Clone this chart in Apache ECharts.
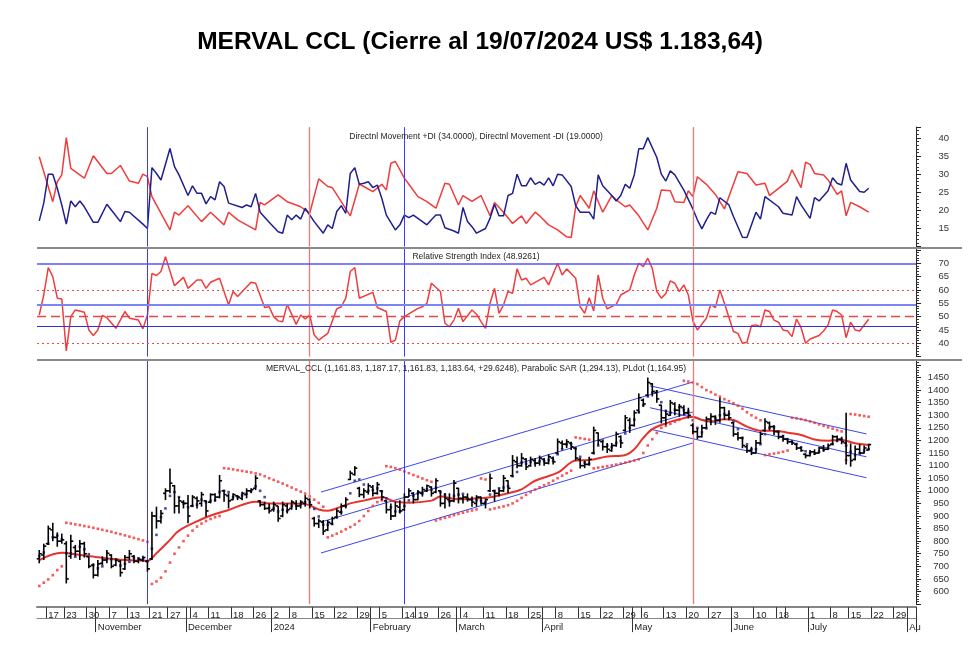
<!DOCTYPE html>
<html><head><meta charset="utf-8">
<script src="https://cdn.jsdelivr.net/npm/echarts/dist/echarts.min.js"></script>
<style>html,body{margin:0;padding:0;background:#fff}#c{width:980px;height:664px}</style>
</head><body><div id="c"></div>
<script>
// ---------- categories (trading days) ----------
const holidays = ['2023-10-13','2023-10-16','2023-11-06','2023-11-20','2023-12-08','2023-12-25','2024-01-01','2024-02-12','2024-02-13','2024-03-28','2024-03-29','2024-04-01','2024-04-02','2024-05-01','2024-06-17','2024-06-20','2024-06-21','2024-07-09'];
const firstDay = '2023-10-11', lastDay = '2024-08-02';
const hiddenDayLabels = ['2024-04-03','2024-06-24'];
const monthNames = ['2024','February','March','April','May','June','July','Au','September','October','November','December'];

// ---------- price bars ----------
const priceOpen = [730,745,790,845,815,800,790,740,775,760, 790,738,705,665,712,725,745,705,720,690, 735,740,720,725,720,730,900,880,990,1000, 1020,940,955,950,940,970,950,960,955,985, 975,1000,980,965,980,970,985,1000,1010,960, 945,930,925,940,900,940,930,950,940,950, 965,890,870,875,845,870,895,915,940,1045, 1065,1010,985,995,1015,990,1000,960,925,900, 935,925,975,990,965,990,1000,1015,995,1000, 950,965,960,1010,970,975,965,950,975,950, 1000,1000,990,1000,1040,1060,1115,1100,1125,1100, 1120,1110,1125,1110,1130,1150,1190,1185,1190,1170, 1125,1100,1105,1150,1230,1195,1175,1160,1180,1215, 1240,1280,1260,1320,1360,1380,1425,1390,1340,1290, 1300,1345,1320,1330,1310,1260,1235,1215,1250,1285, 1295,1280,1330,1300,1270,1225,1210,1175,1160,1150, 1190,1240,1270,1255,1235,1215,1205,1195,1185,1170, 1145,1140,1155,1150,1170,1165,1185,1215,1205,1190, 1140,1125,1165,1150,1161.83];
const priceHigh = [765,790,862,873,835,830,800,825,785,805, 798,740,712,725,740,765,748,732,725,745, 765,745,735,742,725,917,937,924,1010,1089, 1023,976,963,983,983,977,996,963,990,990, 1063,1003,990,990,983,996,1010,1010,1062,963, 957,950,957,940,957,950,963,963,963,983, 970,897,890,884,884,897,930,950,975,1080, 1098,1016,1010,1030,1023,1035,1002,963,950,957, 963,990,1010,995,1003,1016,1025,1018,1050,1002, 990,990,1043,1012,984,990,977,983,977,970, 1069,1003,1010,1063,1042,1142,1136,1150,1130,1136, 1130,1140,1130,1145,1136,1208,1200,1205,1195,1172, 1130,1120,1135,1255,1232,1200,1190,1190,1235,1220, 1301,1290,1320,1387,1367,1450,1428,1400,1342,1320, 1361,1352,1345,1340,1330,1268,1250,1262,1295,1308, 1300,1370,1334,1320,1272,1235,1215,1182,1175,1202, 1235,1288,1275,1261,1238,1222,1208,1200,1188,1175, 1149,1162,1165,1175,1182,1188,1222,1220,1215,1310, 1188,1180,1185,1180,1187.17];
const priceLow = [712,725,785,800,778,790,632,730,740,725, 735,692,652,660,705,712,692,700,659,685, 725,712,712,718,679,725,850,870,963,990, 910,910,930,871,937,930,937,897,950,957, 970,957,930,963,963,963,970,990,1003,937, 924,910,917,877,895,910,925,924,930,937, 930,858,852,825,840,864,890,905,930,1043, 1060,975,970,985,977,985,963,910,884,897, 910,920,975,950,963,977,995,977,990,937, 930,937,955,950,950,957,937,937,945,930, 995,957,977,995,990,1055,1090,1096,1083,1095, 1096,1100,1100,1105,1105,1145,1165,1170,1162,1120, 1089,1090,1100,1145,1180,1160,1150,1155,1175,1170, 1235,1230,1255,1308,1334,1375,1375,1350,1268,1260, 1298,1300,1294,1300,1288,1225,1205,1212,1248,1260, 1262,1270,1281,1280,1215,1200,1169,1150,1142,1148, 1185,1235,1240,1222,1205,1195,1185,1182,1162,1155, 1129,1136,1142,1148,1155,1162,1182,1195,1185,1105, 1096,1120,1145,1148,1161.83];
const priceClose = [750,780,850,815,800,805,650,800,760,790, 750,700,665,710,725,752,700,725,675,735, 750,720,728,735,690,900,880,910,1000,1030, 940,960,950,900,975,960,985,920,985,975, 1040,985,960,985,975,990,1000,1005,1050,945, 930,920,945,890,945,925,955,940,955,970, 945,870,880,840,875,890,920,940,965,1070, 1090,985,1000,1020,990,1025,975,925,900,940, 920,975,1000,965,995,1005,1020,990,1040,950, 970,960,1030,970,975,965,955,975,950,965, 1050,990,1000,1050,1010,1120,1100,1130,1095,1125, 1110,1130,1110,1135,1115,1195,1185,1195,1175,1130, 1100,1105,1125,1240,1200,1175,1165,1180,1225,1190, 1290,1260,1310,1370,1345,1430,1395,1365,1290,1305, 1350,1320,1335,1310,1300,1235,1215,1250,1285,1295, 1280,1330,1300,1290,1225,1210,1180,1160,1150,1190, 1225,1275,1255,1235,1215,1205,1195,1190,1170,1160, 1140,1155,1150,1170,1165,1180,1215,1205,1195,1140, 1120,1165,1150,1170,1183.64];

// ---------- overlays ----------
const plDot = [740,755,790,815,822,808,752,752,738,778, 768,748,705,692,700,728,728,725,703,710, 718,735,732,728,720,770,825,895,930,980, 995,975,950,935,940,945,965,955,960,963, 995,1000,995,975,975,982,988,998,1018,1000, 975,932,930,918,925,920,940,940,948,955, 955,928,898,865,865,868,895,915,940,990, 1040,1045,1025,1000,1003,1010,998,970,935,918, 918,940,962,980,990,990,1005,1005,1012,995, 985,958,980,985,988,970,965,963,960,955, 985,1000,1010,1013,1018,1058,1075,1112,1108,1115, 1110,1118,1118,1122,1120,1145,1165,1185,1185,1168, 1135,1112,1108,1150,1180,1200,1180,1173,1190,1198, 1228,1250,1283,1312,1340,1375,1390,1395,1352,1318, 1310,1322,1332,1320,1315,1280,1250,1232,1248,1275, 1288,1300,1305,1305,1275,1245,1210,1185,1165,1165, 1185,1225,1250,1252,1235,1218,1205,1196,1186,1173, 1157,1150,1148,1155,1162,1170,1185,1198,1205,1180, 1155,1142,1148,1160,1164.95];
const parabolicSar = [622,635,648,665,685,700,873,870,867,864, 860,857,853,849,845,841,837,832,828,823, 818,813,808,803,797,630,640,655,680,715, 750,775,800,822,842,858,870,880,888,895, 900,1090,1088,1085,1082,1079,1076,1073,1069,1065, 1058,1050,1043,1036,1029,1021,1013,1005,997,989, 978,965,952,937,815,822,830,838,847,856, 866,880,900,920,940,955,962,1098,1095,1090, 1084,1077,1070,1063,1056,1049,1042,1036,882,888, 893,898,903,908,913,918,922,926,1049,1045, 926,930,934,938,943,950,960,972,984,995, 1005,1014,1022,1030,1040,1050,1060,1070,1080,1212, 1209,1206,1203,1089,1092,1095,1098,1101,1104,1108, 1112,1116,1120,1125,1150,1180,1205,1230,1250,1258, 1266,1274,1282,1437,1434,1430,1424,1412,1400,1392, 1382,1374,1364,1356,1348,1338,1326,1312,1300,1290, 1280,1142,1145,1148,1151,1155,1160,1290,1288,1285, 1281,1276,1270,1264,1258,1252,1247,1241,1236,1122, 1305,1303,1300,1297,1294.13];
const movingAvg = [[0,725],[5,754],[9,745],[13,736],[19,725],[24,722],[26,752],[29,805],[31,842],[36,887],[39,908],[42,924],[48,957],[51,950],[56,950],[59,948],[62,926],[64,921],[67,937],[69,950],[72,961],[76,974],[79,957],[82,953],[87,961],[89,977],[93,966],[97,970],[100,974],[104,990],[107,1006],[110,1040],[115,1072],[119,1120],[122,1122],[126,1136],[130,1142],[132,1165],[134,1210],[136,1245],[139,1268],[142,1284],[145,1294],[147,1281],[149,1275],[152,1284],[154,1281],[157,1255],[160,1239],[163,1239],[166,1231],[169,1222],[172,1204],[175,1199],[178,1202],[181,1189],[184,1182]];
const channelUpUpper = [[62.5,995],[145,1432]];
const channelUpMid = [[62.5,876],[145,1313]];
const channelUpLower = [[62.5,753],[145,1190]];
const channelDownUpper = [[135.5,1417],[183.5,1226]];
const channelDownMid = [[135.5,1330],[183.5,1135]];
const channelDownLower = [[135.5,1245],[183.5,1052]];
const blueMarkers = [24, 81];
const redMarkers = [60, 145];

// ---------- DI ----------
const diMinus = [[0,34.8],[3,22.4],[4,27.9],[5,29.8],[6,40.1],[7,31.6],[10,28.9],[12,35.1],[15,30.2],[16,30.2],[18,32.4],[20,28.1],[22,27.5],[23,30.0],[24,29.3],[25,23.8],[29,14.6],[30,19.5],[31,18.7],[33,21.3],[36,16.9],[38,19.5],[41,16.0],[42,19.5],[44,17.4],[48,14.6],[49,22.2],[50,21.5],[53,24.3],[55,22.4],[57,21.5],[58,21.0],[60,19.2],[62,28.7],[64,26.6],[65,26.3],[67,22.4],[69,18.5],[71,27.2],[72,26.6],[74,25.2],[76,27.2],[77,25.6],[78,33.0],[79,33.5],[81,28.9],[82,27.2],[84,23.8],[86,22.4],[88,20.6],[90,27.5],[91,27.2],[93,21.5],[94,24.1],[96,22.5],[98,24.1],[100,18.5],[101,22.2],[103,19.5],[105,16.4],[107,18.5],[108,16.4],[110,19.5],[111,18.5],[113,16.0],[115,14.6],[117,12.7],[118,12.5],[119,21.0],[120,24.1],[122,20.6],[123,25.4],[125,19.5],[127,24.1],[128,22.9],[130,21.0],[131,21.5],[133,18.5],[135,14.6],[137,20.6],[138,25.6],[140,25.4],[141,22.4],[143,22.2],[144,25.4],[145,23.8],[146,29.3],[148,27.2],[150,24.4],[152,20.4],[155,30.7],[157,30.2],[159,27.0],[161,27.5],[162,24.1],[164,26.1],[166,28.1],[167,31.2],[169,26.3],[170,33.3],[171,32.7],[172,30.2],[174,29.8],[175,28.4],[177,24.4],[178,25.4],[179,18.5],[180,22.2],[182,21.0],[184,19.5]];
const diPlus = [[0,17.1],[1,22.0],[2,30.0],[3,30.0],[4,26.1],[5,21.5],[6,16.2],[7,22.6],[8,21.0],[9,22.6],[10,21.0],[12,16.7],[13,16.7],[15,21.7],[16,20.1],[18,16.9],[19,19.7],[20,19.5],[23,16.2],[24,15.0],[25,31.8],[26,30.2],[27,28.4],[29,37.1],[30,32.1],[31,29.8],[33,24.1],[34,26.8],[35,24.7],[36,24.7],[37,21.8],[38,23.8],[39,22.9],[40,27.9],[41,26.6],[42,22.0],[45,20.8],[46,21.5],[47,21.0],[48,24.7],[49,19.5],[51,16.7],[53,14.1],[54,13.7],[55,18.7],[56,17.4],[57,18.7],[58,17.6],[59,20.6],[61,16.9],[63,13.7],[64,16.0],[65,15.0],[66,19.7],[67,21.3],[68,19.2],[69,30.2],[70,31.8],[71,27.2],[72,27.5],[73,27.9],[74,26.3],[75,27.0],[76,23.3],[77,18.7],[79,14.6],[80,16.0],[81,18.7],[82,18.0],[83,18.7],[84,17.8],[86,16.0],[87,17.4],[88,18.7],[89,18.7],[90,15.2],[92,14.3],[93,13.7],[94,20.8],[95,16.9],[96,15.5],[97,13.7],[99,15.0],[100,17.8],[101,21.7],[102,18.5],[103,18.5],[104,24.1],[105,24.7],[106,30.0],[107,26.8],[108,26.8],[109,29.0],[110,27.2],[111,27.9],[112,27.0],[113,29.0],[114,26.8],[115,30.0],[116,29.8],[118,26.6],[119,21.3],[120,19.5],[122,19.5],[123,17.6],[124,29.8],[125,26.8],[127,24.1],[128,22.6],[129,24.1],[130,27.2],[131,26.1],[132,29.8],[133,37.0],[134,37.0],[135,40.1],[137,34.6],[138,30.0],[139,28.1],[140,30.9],[141,29.8],[143,25.6],[145,20.4],[146,17.4],[147,14.9],[148,17.4],[149,19.5],[150,18.9],[151,23.5],[153,21.5],[154,18.3],[156,12.6],[157,12.5],[159,19.5],[160,17.6],[161,23.8],[164,21.0],[165,19.2],[167,18.7],[168,23.8],[169,21.5],[171,17.8],[172,23.5],[173,22.6],[175,25.4],[176,29.0],[177,27.5],[178,27.0],[179,33.0],[180,28.4],[182,25.2],[183,25.0],[184,26.1]];

// ---------- RSI ----------
const rsiLine = [[0,50.6],[1,58.1],[2,68.4],[3,65.0],[4,56.9],[5,56.6],[6,37.1],[7,50.0],[8,52.5],[10,51.6],[11,45.0],[12,42.9],[13,45.0],[14,50.4],[15,49.6],[17,45.6],[19,51.9],[20,49.4],[22,48.7],[23,45.4],[24,50.6],[25,66.2],[26,65.4],[27,66.9],[28,72.5],[30,61.6],[32,64.7],[33,60.6],[35,63.7],[36,63.7],[37,60.6],[38,62.9],[40,64.4],[42,54.4],[43,59.4],[44,57.5],[47,62.9],[48,62.5],[50,53.4],[51,53.7],[52,50.0],[53,48.4],[54,48.1],[55,54.6],[57,47.1],[58,50.6],[59,49.1],[60,50.6],[61,43.1],[62,41.2],[64,43.7],[66,52.9],[67,53.7],[68,56.9],[69,66.9],[70,68.4],[71,56.9],[74,59.1],[75,53.4],[77,51.9],[78,40.4],[79,41.2],[80,48.4],[81,50.0],[84,53.1],[85,53.7],[86,55.0],[87,62.5],[89,59.4],[90,47.5],[91,46.2],[92,48.7],[93,53.1],[94,48.1],[96,52.5],[97,50.9],[98,48.1],[99,45.6],[100,55.0],[101,60.6],[102,51.2],[103,54.4],[104,59.4],[105,58.7],[106,67.9],[107,63.7],[108,64.4],[109,61.9],[112,64.7],[113,61.9],[115,70.0],[116,65.6],[117,67.9],[119,64.4],[120,53.7],[121,51.2],[122,57.1],[123,52.1],[124,65.6],[125,56.9],[126,52.9],[128,54.6],[129,58.1],[131,60.0],[132,65.6],[133,70.0],[134,68.7],[135,71.9],[136,68.1],[137,59.4],[138,56.9],[139,58.7],[140,63.4],[141,62.5],[142,59.4],[143,61.9],[144,58.1],[145,48.4],[146,45.0],[148,49.4],[149,54.6],[150,53.4],[151,60.0],[152,55.0],[154,44.4],[155,43.7],[156,40.0],[157,40.4],[158,46.6],[159,46.9],[160,46.2],[161,52.5],[162,51.9],[163,48.7],[164,47.9],[165,45.0],[166,44.6],[167,42.5],[168,49.1],[169,45.9],[170,40.0],[171,41.6],[173,42.9],[174,44.6],[175,46.9],[176,52.5],[177,51.9],[178,50.6],[179,42.1],[180,47.9],[181,45.0],[182,44.6],[184,49.0]];
const rsiBlueLevels = [70, 54.6, 46.4];
const rsiDottedLevels = [60, 40];
const rsiDashedLevel = 50;

// ---------- tick labels ----------
const diTicks = [15,20,25,30,35,40];
const rsiTicks = [40,45,50,55,60,65,70];
const priceTicks = [600,650,700,750,800,850,900,950,1000,1050,1100,1150,1200,1250,1300,1350,1400,1450];

// ---------- build trading-day list ----------
const dates = [];
for (let d = new Date(firstDay + 'T00:00:00Z'); d <= new Date(lastDay + 'T00:00:00Z'); d.setUTCDate(d.getUTCDate() + 1)) {
  const wd = d.getUTCDay();
  if (wd === 0 || wd === 6) continue;
  const s = d.toISOString().slice(0, 10);
  if (holidays.includes(s)) continue;
  dates.push(s);
}
const dayNum = s => Math.round(Date.parse(s + 'T00:00:00Z') / 86400000);
const weekKey = s => Math.floor((dayNum(s) + 3) / 7);
const isWeekStart = i => i > 0 && weekKey(dates[i]) !== weekKey(dates[i - 1]);
const isMonthStart = i => i > 0 && dates[i].slice(5, 7) !== dates[i - 1].slice(5, 7);

const FONT = '"Liberation Sans", Arial, sans-serif';
const N = dates.length;

const grids = [
  {left: 37, right: 64, top: 127.1, height: 119.5},
  {left: 37, right: 64, top: 248.6, height: 108},
  {left: 37, right: 64, top: 359.9, height: 244.2}
];
grids.forEach(g => { g.outerBoundsMode = 'none'; g.containLabel = false; });

const hiddenX = gi => ({type: 'value', gridIndex: gi, min: -0.5, max: N - 0.5, show: false, position: 'top', axisLine: {onZero: false}});
const rightY = (gi, min, max, ticks) => ({
  type: 'value', gridIndex: gi, position: 'right', min: min, max: max, interval: 5 * (gi === 2 ? 10 : 1),
  axisLine: {show: true, onZero: false, lineStyle: {color: '#222', width: 1}},
  axisTick: {show: true, inside: false, length: 5, lineStyle: {color: '#222'}},
  minorTick: {show: true, splitNumber: 5, length: 3, lineStyle: {color: '#333'}},
  splitLine: {show: false}, minorSplitLine: {show: false},
  axisLabel: {show: true, margin: 33, align: 'right', fontSize: 9.5, color: '#333', fontFamily: FONT,
    formatter: v => ticks.includes(v) ? String(v) : ''}
});

const vMarks = () => blueMarkers.map(x => ({xAxis: x, lineStyle: {color: '#3c3cff', width: 1, type: 'solid'}}))
  .concat(redMarkers.map(x => ({xAxis: x, lineStyle: {color: '#f07a7a', width: 1.3, type: 'solid'}})));
const mlBase = data => ({silent: true, symbol: 'none', label: {show: false}, emphasis: {disabled: true}, animation: false, data: data});

const chan = d => ({type: 'line', xAxisIndex: 2, yAxisIndex: 2, data: d, symbol: 'none', silent: true,
  lineStyle: {color: '#3a46f0', width: 1}, z: 2});

const option = {
  animation: false,
  backgroundColor: '#fff',
  grid: grids,
  xAxis: [
    hiddenX(0), hiddenX(1), hiddenX(2),
    {type: 'category', gridIndex: 2, data: dates, position: 'bottom', offset: 3, boundaryGap: true,
      axisLine: {show: true, onZero: false, lineStyle: {color: '#858585', width: 2}},
      axisTick: {show: true, inside: false, length: 11, interval: (i) => isWeekStart(i) || isMonthStart(i), lineStyle: {color: '#333', width: 1}},
      axisLabel: {show: true, interval: (i) => isWeekStart(i) && !hiddenDayLabels.includes(dates[i]),
        formatter: v => String(parseInt(v.slice(8), 10)), align: 'left', margin: 3, fontSize: 9.5, color: '#222', fontFamily: FONT},
      splitLine: {show: false}},
    {type: 'category', gridIndex: 2, data: dates, position: 'bottom', offset: 14, boundaryGap: true,
      axisLine: {show: true, onZero: false, lineStyle: {color: '#858585', width: 1}},
      axisTick: {show: true, inside: false, length: 14, interval: (i) => isMonthStart(i), lineStyle: {color: '#333', width: 1}},
      axisLabel: {show: true, interval: (i) => isMonthStart(i),
        formatter: v => monthNames[parseInt(v.slice(5, 7), 10) - 1], align: 'left', margin: 4, fontSize: 9.5, color: '#222', fontFamily: FONT},
      splitLine: {show: false}}
  ],
  yAxis: [
    rightY(0, 10, 43, diTicks),
    rightY(1, 35, 75.5, rsiTicks),
    rightY(2, 550, 1520, priceTicks)
  ],
  graphic: [
    {type: 'text', x: 480, y: 42, style: {text: 'MERVAL CCL (Cierre al 19/07/2024 US$ 1.183,64)', align: 'center', verticalAlign: 'middle', textAlign: 'center', textVerticalAlign: 'middle', font: 'bold 24.5px ' + FONT, fill: '#000'}},
    {type: 'text', x: 476, y: 137, style: {text: 'Directnl Movement +DI (34.0000), Directnl Movement -DI (19.0000)', align: 'center', verticalAlign: 'middle', textAlign: 'center', textVerticalAlign: 'middle', font: '8.5px ' + FONT, fill: '#222'}, z: 10},
    {type: 'text', x: 476, y: 257, style: {text: 'Relative Strength Index (48.9261)', align: 'center', verticalAlign: 'middle', textAlign: 'center', textVerticalAlign: 'middle', font: '8.5px ' + FONT, fill: '#222'}, z: 10},
    {type: 'text', x: 476, y: 369, style: {text: 'MERVAL_CCL (1,161.83, 1,187.17, 1,161.83, 1,183.64, +29.6248), Parabolic SAR (1,294.13), PLdot (1,164.95)', align: 'center', verticalAlign: 'middle', textAlign: 'center', textVerticalAlign: 'middle', font: '8.5px ' + FONT, fill: '#222'}, z: 10},
    {type: 'line', shape: {x1: 37, y1: 248, x2: 962, y2: 248}, style: {stroke: '#8a8a8a', lineWidth: 2}, z: 10},
    {type: 'line', shape: {x1: 37, y1: 360, x2: 962, y2: 360}, style: {stroke: '#8a8a8a', lineWidth: 2}, z: 10}
  ],
  series: [
    {type: 'line', name: '-DI', xAxisIndex: 0, yAxisIndex: 0, data: diMinus, symbol: 'none', silent: true,
      lineStyle: {color: '#f03c3c', width: 1.5}, z: 3, markLine: mlBase(vMarks())},
    {type: 'line', name: '+DI', xAxisIndex: 0, yAxisIndex: 0, data: diPlus, symbol: 'none', silent: true,
      lineStyle: {color: '#1f1f8f', width: 1.5}, z: 4},
    {type: 'line', name: 'RSI', xAxisIndex: 1, yAxisIndex: 1, data: rsiLine, symbol: 'none', silent: true,
      lineStyle: {color: '#f03c3c', width: 1.5}, z: 4,
      markLine: mlBase(vMarks().concat([
        {yAxis: rsiBlueLevels[0], lineStyle: {color: '#5454ff', width: 1.5, type: 'solid'}},
        {yAxis: rsiBlueLevels[1], lineStyle: {color: '#7c86f2', width: 2, type: 'solid'}},
        {yAxis: rsiBlueLevels[2], lineStyle: {color: '#2a32d8', width: 1.2, type: 'solid'}},
        {yAxis: rsiDottedLevels[0], lineStyle: {color: '#ee4a4a', width: 1, type: [2, 3]}},
        {yAxis: rsiDottedLevels[1], lineStyle: {color: '#ee4a4a', width: 1, type: [2, 3]}},
        {yAxis: rsiDashedLevel, lineStyle: {color: '#e54848', width: 1.3, type: [9, 5]}}
      ]))},
    chan(channelUpUpper), chan(channelUpMid), chan(channelUpLower),
    chan(channelDownUpper), chan(channelDownMid), chan(channelDownLower),
    {type: 'line', name: 'MA', xAxisIndex: 2, yAxisIndex: 2, data: movingAvg, symbol: 'none', smooth: 0.35, silent: true,
      lineStyle: {color: '#e8322e', width: 2}, z: 3, markLine: mlBase(vMarks())},
    {type: 'scatter', name: 'SAR', xAxisIndex: 2, yAxisIndex: 2, data: parabolicSar.map((v, i) => [i, v]), symbol: 'rect', symbolSize: 2.6, silent: true,
      itemStyle: {color: '#f23030'}, z: 4},
    {type: 'scatter', name: 'PLdot', xAxisIndex: 2, yAxisIndex: 2, data: plDot.map((v, i) => [i, v]), symbol: 'rect', symbolSize: 2.6, silent: true,
      itemStyle: {color: '#1f1f8f'}, z: 4},
    {type: 'custom', name: 'OHLC', xAxisIndex: 2, yAxisIndex: 2, silent: true, z: 5,
      data: priceClose.map((c, i) => [i, priceOpen[i], priceHigh[i], priceLow[i], c]),
      encode: {x: 0, y: [1, 2, 3, 4]},
      renderItem: (params, api) => {
        const x = api.value(0);
        const h = api.coord([x, api.value(2)]), l = api.coord([x, api.value(3)]);
        const o = api.coord([x, api.value(1)]), c = api.coord([x, api.value(4)]);
        const st = {stroke: '#000', lineWidth: 1.6};
        return {type: 'group', children: [
          {type: 'line', shape: {x1: h[0], y1: h[1], x2: l[0], y2: l[1]}, style: st},
          {type: 'line', shape: {x1: o[0] - 2.5, y1: o[1], x2: o[0], y2: o[1]}, style: st},
          {type: 'line', shape: {x1: c[0], y1: c[1], x2: c[0] + 2.5, y2: c[1]}, style: st}
        ]};
      }}
  ]
};
const chart = echarts.init(document.getElementById('c'), null, {renderer: 'canvas'});
chart.setOption(option);
</script>
</body></html>
